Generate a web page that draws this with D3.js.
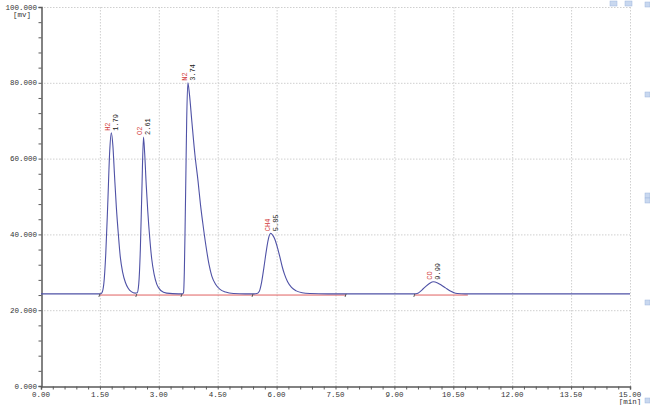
<!DOCTYPE html>
<html><head><meta charset="utf-8">
<script src="https://cdn.jsdelivr.net/npm/d3@7"></script>
<style>
html,body{margin:0;padding:0;background:#fff;}
svg{display:block;}
text{font-family:"Liberation Mono","DejaVu Sans Mono",monospace;}
</style></head>
<body><svg id="c" width="650" height="405"></svg>
<script>
// ---- data ----
const xTicks = [0, 1.5, 3, 4.5, 6, 7.5, 9, 10.5, 12, 13.5, 15];
const xTickLabels = ["0.00","1.50","3.00","4.50","6.00","7.50","9.00","10.50","12.00","13.50","15.00"];
const yTicks = [0, 20, 40, 60, 80, 100];
const yTickLabels = ["0.000","20.000","40.000","60.000","80.000","100.000"];
const yUnit = "[mv]";
const xUnit = "[min]";

// signal trace (time in min, signal in mV)
const traceTime = [0.00,1.50,1.55,1.60,1.65,1.70,1.75,1.79,1.83,1.87,1.92,1.97,2.02,2.08,2.15,2.22,2.30,2.40,
  2.45,2.49,2.53,2.57,2.61,2.64,2.68,2.72,2.77,2.82,2.88,2.95,3.05,3.20,3.50,
  3.60,3.63,3.65,3.67,3.69,3.71,3.74,3.78,3.84,3.92,4.00,4.06,4.12,4.20,4.28,4.35,4.45,4.56,4.70,4.90,5.20,
  5.40,5.50,5.56,5.62,5.68,5.74,5.80,5.85,5.90,5.96,6.02,6.08,6.14,6.20,6.28,6.38,6.50,6.65,6.85,7.30,
  9.50,9.60,9.70,9.80,9.90,9.99,10.10,10.20,10.30,10.40,10.50,10.60,10.80,15.00];
const traceValue = [24.3,24.3,24.6,27.0,35.0,48.0,62.0,66.8,63.5,56.0,47.0,40.0,34.0,30.0,27.3,25.8,24.9,24.5,
  24.6,27.0,36.0,52.0,65.7,61.5,53.0,46.0,39.0,33.5,29.5,26.8,25.2,24.5,24.3,
  24.3,24.6,30.0,42.0,56.0,70.0,80.0,77.0,70.0,61.0,54.0,48.0,43.0,37.0,32.0,29.0,26.8,25.5,24.8,24.4,24.3,
  24.3,24.4,25.0,27.5,31.5,35.8,39.2,40.3,39.8,38.6,36.6,34.2,31.6,29.5,27.5,26.0,25.1,24.6,24.4,24.3,
  24.3,24.5,25.3,26.3,27.1,27.5,27.2,26.6,25.9,25.2,24.7,24.4,24.3,24.3];

// identified peaks
const peakNames = ["H2","O2","N2","CH4","CO"];
const peakTimes = [1.79, 2.61, 3.74, 5.85, 9.99];
const peakHeights = [66.8, 65.7, 80.0, 40.3, 27.5];

// integration baselines [start, end] in min and their level in mV
const baseStart = [1.50, 9.52];
const baseEnd = [7.77, 10.87];
const baseLevel = [24.0, 24.0];
const peakMarks = [1.50, 2.44, 3.59, 5.40, 7.77, 9.52];

// ---- drawing ----
const svg = d3.select("#c");
const x = d3.scaleLinear().domain([0, 15]).range([41, 630]);
const y = d3.scaleLinear().domain([0, 100]).range([386, 7]);

const axisCol = "#5a5a5a";
const gridCol = "#cfcfcf";

// grid
const g = svg.append("g");
g.selectAll("line.vg").data(xTicks.slice(1)).enter().append("line")
  .attr("x1", d => x(d) + 0.5).attr("x2", d => x(d) + 0.5)
  .attr("y1", y(100)).attr("y2", y(0))
  .attr("stroke", gridCol).attr("stroke-width", 1).attr("stroke-dasharray", "1.5,1.5");
g.selectAll("line.hg").data(yTicks.slice(1)).enter().append("line")
  .attr("x1", x(0)).attr("x2", x(15))
  .attr("y1", d => y(d) + 0.5).attr("y2", d => y(d) + 0.5)
  .attr("stroke", gridCol).attr("stroke-width", 1).attr("stroke-dasharray", "1.5,1.5");

// axes
const yAxis = d3.axisLeft(y).tickValues(d3.range(0, 100.001, 4)).tickSize(3).tickFormat("");
const ya = svg.append("g").attr("transform", `translate(${x(0)+0.5},0)`).call(yAxis);
ya.selectAll("path,line").attr("stroke", axisCol);
ya.select("path").attr("stroke-width", 1.5);
ya.selectAll(".tick line").attr("stroke-width", 1);

const xAxis = d3.axisBottom(x).tickValues(d3.range(0, 15.001, 0.3)).tickSize(3).tickFormat("");
const xa = svg.append("g").attr("transform", `translate(0,${y(0)+0.5})`).call(xAxis);
xa.selectAll("path,line").attr("stroke", axisCol);
xa.select("path").attr("stroke-width", 1.5);

// tick labels
svg.selectAll("text.yl").data(yTicks).enter().append("text")
  .attr("x", 37).attr("y", d => y(d) + 2.5)
  .attr("text-anchor", "end").attr("font-size", 7.5).attr("fill", "#333")
  .text((d, i) => yTickLabels[i]);
svg.append("text").attr("x", 22).attr("y", 17).attr("text-anchor", "middle")
  .attr("font-size", 7.5).attr("fill", "#333").text(yUnit);
svg.selectAll("text.xl").data(xTicks).enter().append("text")
  .attr("x", d => x(d)).attr("y", 397)
  .attr("text-anchor", "middle").attr("font-size", 7.5).attr("fill", "#333")
  .text((d, i) => xTickLabels[i]);
svg.append("text").attr("x", x(15)).attr("y", 404).attr("text-anchor", "middle")
  .attr("font-size", 7.5).attr("fill", "#333").text(xUnit);

// integration baselines (red)
svg.selectAll("line.bl").data(baseStart).enter().append("line")
  .attr("x1", d => x(d)).attr("x2", (d, i) => x(baseEnd[i]))
  .attr("y1", (d, i) => y(baseLevel[i])).attr("y2", (d, i) => y(baseLevel[i]))
  .attr("stroke", "#e06060").attr("stroke-width", 1);

// trace
const pts = traceTime.map((t, i) => [t, traceValue[i]]);
const line = d3.line().x(d => x(d[0])).y(d => y(d[1])).curve(d3.curveMonotoneX);
svg.append("path").attr("d", line(pts)).attr("fill", "none")
  .attr("stroke", "#4f52a6").attr("stroke-width", 1.1);

// peak start/end marks
svg.selectAll("line.pm").data(peakMarks).enter().append("line")
  .attr("x1", d => x(d)).attr("x2", d => x(d) - 1)
  .attr("y1", y(24.3)).attr("y2", y(24.3) + 3)
  .attr("stroke", "#555").attr("stroke-width", 1);

// peak labels
peakTimes.forEach((t, i) => {
  const px = x(t), py = y(peakHeights[i]) - 2;
  svg.append("text").attr("transform", `translate(${px - 1},${py}) rotate(-90)`)
    .attr("font-size", 7).attr("fill", "#d23a3a").text(peakNames[i]);
  svg.append("text").attr("transform", `translate(${px + 7},${py}) rotate(-90)`)
    .attr("font-size", 7).attr("fill", "#222").text(peakTimes[i].toFixed(2));
});

// window chrome hints (scroll buttons)
const chrome = svg.append("g").attr("fill", "#c9d8ef").attr("stroke", "#9fb6dd").attr("stroke-width", 0.5);
[[610,1],[625,1]].forEach(p => chrome.append("rect").attr("x", p[0]).attr("y", p[1]).attr("width", 7).attr("height", 5));
[2, 92, 193, 198, 300, 398].forEach(v => chrome.append("rect").attr("x", 645).attr("y", v).attr("width", 5).attr("height", 5));
</script>
</body></html>
